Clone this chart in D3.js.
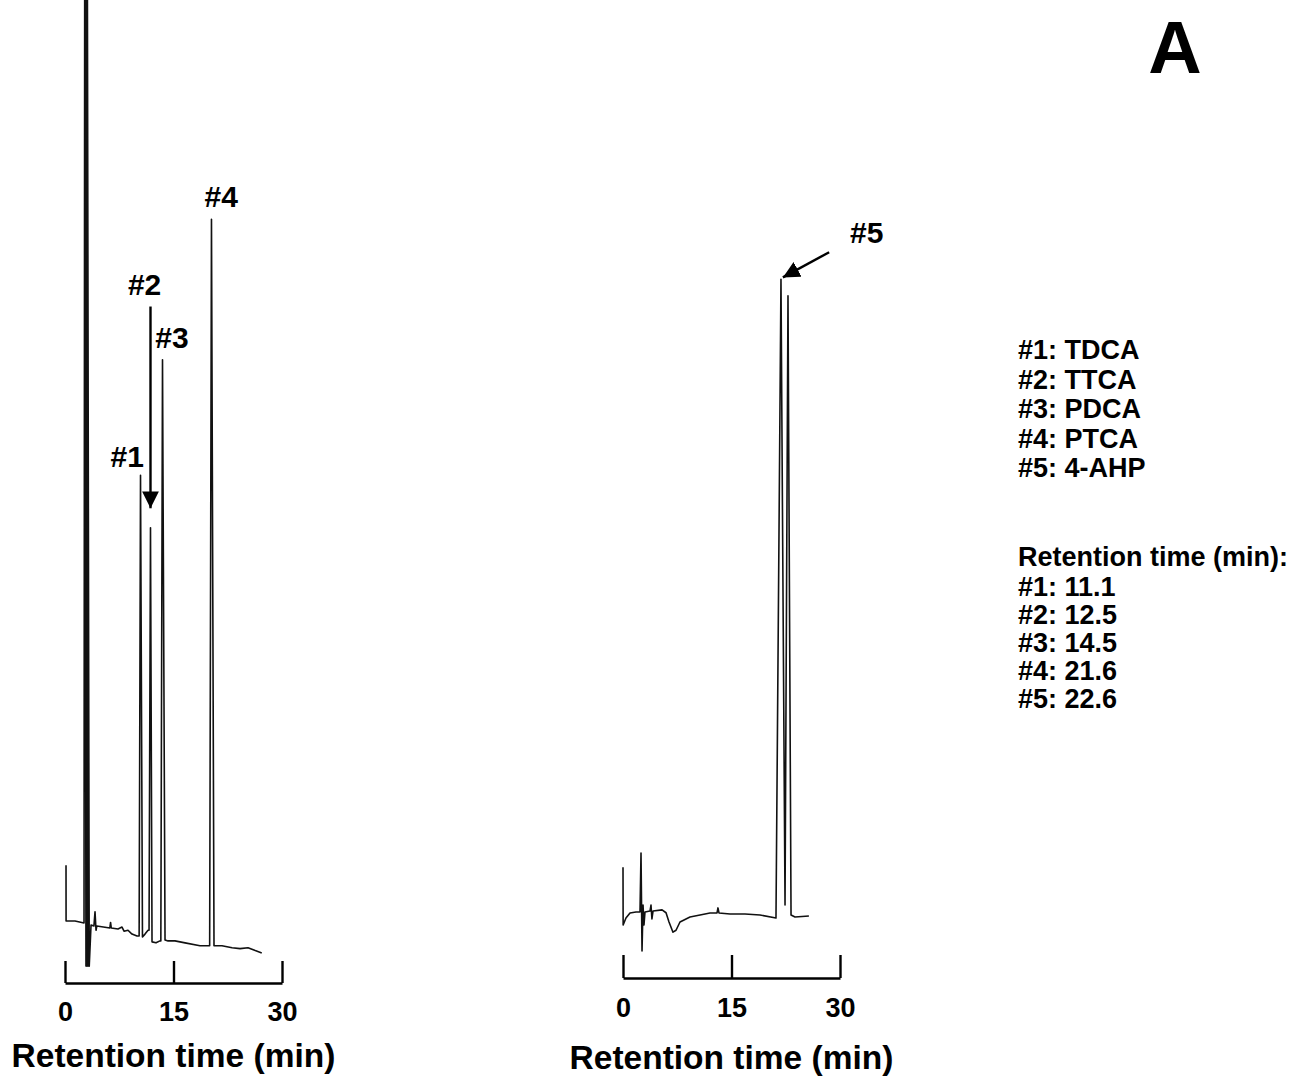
<!DOCTYPE html>
<html lang="en">
	<head>
		<meta charset="utf-8">
		<title>chromatograms</title>
		<script src="https://d3js.org/d3.v7.min.js"></script>
		<style type="text/css">
			body { margin: 0; background: #fff; }
			text { font-family: "Liberation Sans", Arial, Helvetica, sans-serif; font-weight: bold; fill: #000; }
		</style>
	</head>

	<body>
		<script type="text/javascript">
			var w = 1306
			var h = 1082

			// trace of the standards mix, [time (min), response]
			var traceLeft = [
				[0.14, 10.8], [0.15, 5.05], [1.38, 5.05], [2.63, 4.85],
				[2.72, 100], [2.9, 0.4], [2.8, 100], [3.0, 0.4], [2.9, 100], [3.1, 0.4],
				[3.0, 100], [3.25, 0.4], [3.1, 100], [3.35, 0.4],
				[3.6, 4.64], [4.0, 4.54], [4.15, 6.0], [4.29, 4.1], [4.4, 4.54],
				[6.2, 4.33], [6.3, 4.9], [6.4, 4.33], [7.33, 4.23], [7.88, 4.43], [8.16, 4.0],
				[8.71, 4.1], [9.26, 3.7], [9.95, 3.5], [10.25, 3.5],
				[10.44, 51.0], [10.71, 3.4], [11.06, 3.7], [11.48, 4.1], [11.62, 4.1],
				[11.82, 45.6], [12.03, 2.9], [12.58, 2.8], [13.13, 3.0], [13.25, 3.0],
				[13.48, 62.9], [13.83, 3.1], [14.24, 3.0], [15.2, 3.0], [16.6, 2.8],
				[18.66, 2.5], [20.0, 2.5],
				[20.25, 77.4], [20.6, 2.5], [21.7, 2.5], [23.1, 2.3], [24.2, 2.2],
				[25.3, 2.3], [26.3, 2.0], [27.2, 1.75]
			]

			// trace of the 4-AHP sample
			var traceRight = [
				[0.0, 10.6], [0.02, 4.64], [0.41, 5.36], [0.97, 5.88], [1.8, 5.98], [2.35, 5.98],
				[2.49, 12.06], [2.63, 1.96], [2.77, 6.7], [2.9, 4.64], [3.04, 5.98],
				[3.73, 6.08], [3.87, 6.7], [4.0, 5.26], [4.15, 6.08],
				[5.4, 6.2], [5.95, 5.9], [6.36, 4.95], [6.91, 3.9], [7.33, 4.1], [7.88, 4.95],
				[9.26, 5.46], [10.65, 5.67], [12.03, 5.88], [13.0, 5.88], [13.13, 6.4], [13.27, 5.88],
				[14.8, 5.77], [16.87, 5.77], [18.94, 5.67], [21.15, 5.36],
				[21.84, 71.2], [22.4, 6.7], [22.81, 69.5], [23.23, 5.67], [23.78, 5.46], [25.7, 5.57]
			]

			var xTicks = [0, 15, 30]
			var axisTitle = "Retention time (min)"

			// peak labels, [panel, text, time, response]
			var peakLabels = [
				["left", "#1", 8.6, 51.9],
				["left", "#2", 11.0, 69.6],
				["left", "#3", 14.8, 64.1],
				["left", "#4", 21.6, 78.7],
				["right", "#5", 33.7, 75.0]
			]
			// arrows, [panel, tail time, tail response, tip time, tip response]
			var arrows = [
				["left", 11.82, 68.4, 11.82, 47.6],
				["right", 28.5, 74.0, 22.1, 71.4]
			]

			var legendNames = ["#1: TDCA", "#2: TTCA", "#3: PDCA", "#4: PTCA", "#5: 4-AHP"]
			var legendTimesTitle = "Retention time (min):"
			var legendTimes = ["#1: 11.1", "#2: 12.5", "#3: 14.5", "#4: 21.6", "#5: 22.6"]
			var panelLetter = "A"

			// scales
			var xLeft = d3.scaleLinear().domain([0, 30]).range([65, 282])
			var xRight = d3.scaleLinear().domain([0, 30]).range([623, 840])
			var y = d3.scaleLinear().domain([0, 100]).range([970, 0])
			var xOf = { left: xLeft, right: xRight }

			var svg = d3.select("body")
						.append("svg")
						.attr("width", w)
						.attr("height", h)

			svg.append("defs").append("marker")
				.attr("id", "head")
				.attr("viewBox", "0 0 10 10")
				.attr("refX", 10)
				.attr("refY", 5)
				.attr("markerWidth", 7)
				.attr("markerHeight", 7)
				.attr("markerUnits", "strokeWidth")
				.attr("orient", "auto")
				.append("path")
				.attr("d", "M0,0 L10,5 L0,10 Z")
				.attr("fill", "#000")

			// traces
			function drawTrace(data, xs, sw) {
				var line = d3.line()
							.x(function(d) { return xs(d[0]) })
							.y(function(d) { return y(d[1]) })
				svg.append("path")
					.datum(data)
					.attr("d", line)
					.attr("fill", "none")
					.attr("stroke", "#111")
					.attr("stroke-width", sw)
					.attr("stroke-linejoin", "round")
			}
			drawTrace(traceLeft, xLeft, 1.6)
			drawTrace(traceRight, xRight, 1.6)

			// axes (scale bars with ticks pointing up, labels below)
			function drawAxis(xs, yPos, tickLen, pad, titleY) {
				var g = svg.append("g")
							.attr("transform", "translate(0," + yPos + ")")
							.call(d3.axisBottom(xs).tickValues(xTicks).tickSizeInner(-tickLen).tickSizeOuter(0).tickPadding(pad))
				g.selectAll("path, line").attr("stroke", "#000").attr("stroke-width", 2.4)
				g.selectAll("text")
					.style("font-family", "'Liberation Sans', Arial, sans-serif")
					.style("font-weight", "bold")
					.style("font-size", "27px")
					.attr("fill", "#000")
				svg.append("text")
					.attr("x", (xs.range()[0] + xs.range()[1]) / 2)
					.attr("y", titleY)
					.attr("text-anchor", "middle")
					.style("font-size", "33.5px")
					.text(axisTitle)
			}
			drawAxis(xLeft, 983, 22, 19, 1067)
			drawAxis(xRight, 978, 23, 20, 1069)

			// peak labels
			svg.selectAll(".peak")
				.data(peakLabels)
				.enter()
				.append("text")
				.attr("class", "peak")
				.attr("x", function(d) { return xOf[d[0]](d[2]) })
				.attr("y", function(d) { return y(d[3]) })
				.attr("text-anchor", "middle")
				.style("font-size", "30px")
				.text(function(d) { return d[1] })

			svg.selectAll(".arrow")
				.data(arrows)
				.enter()
				.append("line")
				.attr("class", "arrow")
				.attr("x1", function(d) { return xOf[d[0]](d[1]) })
				.attr("y1", function(d) { return y(d[2]) })
				.attr("x2", function(d) { return xOf[d[0]](d[3]) })
				.attr("y2", function(d) { return y(d[4]) })
				.attr("stroke", "#000")
				.attr("stroke-width", 2.4)
				.attr("marker-end", "url(#head)")

			// legend text
			var lg = svg.append("g").attr("transform", "translate(1018,0)")
			lg.selectAll(".name")
				.data(legendNames)
				.enter()
				.append("text")
				.attr("class", "name")
				.attr("y", function(d, i) { return 359 + i * 29.5 })
				.style("font-size", "27px")
				.text(function(d) { return d })
			lg.append("text")
				.attr("y", 566)
				.style("font-size", "27px")
				.text(legendTimesTitle)
			lg.selectAll(".rt")
				.data(legendTimes)
				.enter()
				.append("text")
				.attr("class", "rt")
				.attr("y", function(d, i) { return 596 + i * 28 })
				.style("font-size", "27px")
				.text(function(d) { return d })

			svg.append("text")
				.attr("x", 1175)
				.attr("y", 73)
				.attr("text-anchor", "middle")
				.style("font-size", "74px")
				.text(panelLetter)
		</script>
	</body>
</html>
